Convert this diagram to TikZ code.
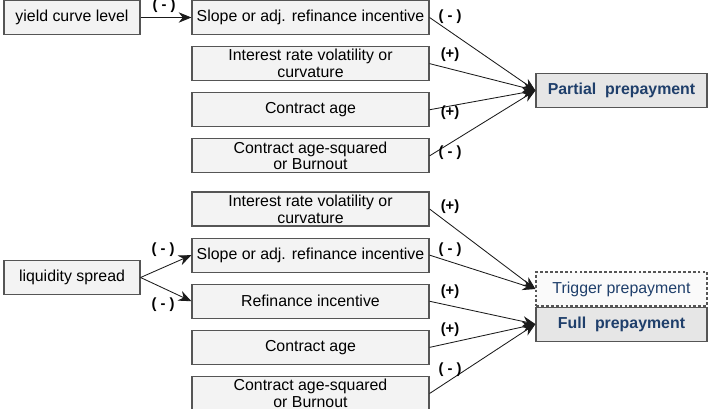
\documentclass[tikz,border=0pt]{standalone}
\usepackage{fontspec}
\setmainfont{Liberation Sans}
\usepackage{tikz}
\usetikzlibrary{arrows.meta,positioning}
\definecolor{ink}{HTML}{1A1A1A}
\definecolor{boxline}{HTML}{555555}
\definecolor{boxfill}{HTML}{F3F3F3}
\definecolor{outfill}{HTML}{E6E6E6}
\definecolor{navy}{HTML}{1F3F6B}
\tikzset{
  factor/.style={draw=boxline,fill=boxfill,line width=0.8pt,align=center,minimum height=8.5mm,
    minimum width=59.25mm,inner ysep=0pt,font=\fontsize{11.3}{12}\selectfont},
  source/.style={factor,minimum width=34mm},
  outcome/.style={factor,minimum width=42.75mm,fill=outfill,text=navy,
    font=\fontsize{11.3}{12}\selectfont\bfseries},
  trigger/.style={outcome,dash pattern=on 2pt off 1.5pt,fill=gray!4,font=\fontsize{11.3}{12}\selectfont},
  arr/.style={-{Stealth[length=3.2mm,width=2.6mm]},line width=0.6pt,draw=ink},
  sign/.style={font=\fontsize{10.5}{12}\selectfont\bfseries,inner sep=1pt}
}

\begin{document}
\begin{tikzpicture}[x=0.25mm,y=-0.25mm,node distance=2.75mm]
\useasboundingbox (0,0) rectangle (716,408);

% partial prepayment block
\node[source] (yield) at (72,17.5) {yield curve level};
\node[factor] (slopeA) at (310.5,17.5) {Slope or adj. refinance incentive};
\node[factor,below=of slopeA] (volA) {Interest rate volatility or\\curvature};
\node[factor,below=of volA] (ageA) {Contract age};
\node[factor,below=of ageA] (burnA) {Contract age-squared\\or Burnout};
\node[outcome] (partial) at (621.5,90.5) {Partial\ \ prepayment};

% full prepayment block
\node[source] (liq) at (72,277.5) {liquidity spread};
\node[factor] (volB) at (310.5,209) {Interest rate volatility or\\curvature};
\node[factor,below=of volB] (slopeB) {Slope or adj. refinance incentive};
\node[factor,below=of slopeB] (refi) {Refinance incentive};
\node[factor,below=of refi] (ageB) {Contract age};
\node[factor,below=of ageB] (burnB) {Contract age-squared\\or Burnout};
\node[trigger] (trig) at (621.5,289) {Trigger prepayment};
\node[outcome,below=0pt of trig] (full) {Full\ \ prepayment};

\draw[arr] (yield) -- (slopeA);
\draw[arr] (liq.east) -- (slopeB.west);
\draw[arr] (liq.east) -- (refi.west);
\foreach \f in {slopeA,volA,ageA,burnA}
  \draw[arr] (\f.east) -- (partial.west);
\foreach \f in {volB,slopeB}
  \draw[arr] (\f.east) -- (trig.west);
\foreach \f in {refi,ageB,burnB}
  \draw[arr] (\f.east) -- (full.west);

% signs
\node[sign] (sYield) at (164,6) {( - )};
\node[sign] (sLiqA) at (163,250) {( - )};
\node[sign] (sLiqB) at (163,305) {( - )};
\node[sign] (sA1) at (450,17) {( - )};
\node[sign] (sA2) at (450,55) {(+)};
\node[sign] (sA3) at (450,113) {(+)};
\node[sign] (sA4) at (450,153) {( - )};
\node[sign] (sB1) at (450,207) {(+)};
\node[sign] (sB2) at (450,250) {( - )};
\node[sign] (sB3) at (450,292) {(+)};
\node[sign] (sB4) at (450,330) {(+)};
\node[sign] (sB5) at (450,370) {( - )};
\end{tikzpicture}
\end{document}
